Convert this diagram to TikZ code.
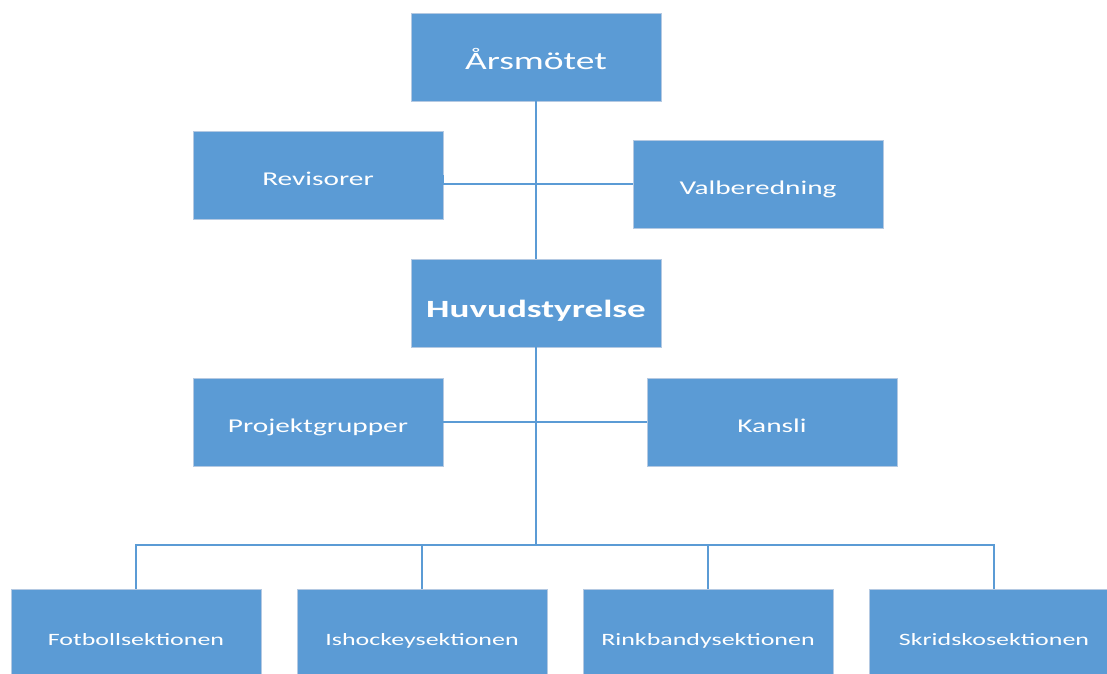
\documentclass[tikz,border=0pt]{standalone}
\usepackage{fontspec}
\setmainfont{Carlito}[FakeStretch=1.5]
\definecolor{orgblue}{HTML}{5B9BD5}
\definecolor{orgedge}{HTML}{B4C9E2}
\begin{document}
\begin{tikzpicture}[x=0.025cm, y=-0.025cm,
  orgbox/.style={draw=orgedge, fill=orgblue, text=white, minimum width=6.25cm, minimum height=2.2cm, inner sep=0pt, text depth=0pt},
  toptext/.style={font=\fontsize{17.8}{20}\selectfont, text height=0.62cm},
  midtext/.style={font=\fontsize{13.9}{16}\selectfont, text height=0.5cm},
  sectext/.style={font=\fontsize{12.3}{14}\selectfont, text height=0.6cm},
  orgline/.style={draw=orgblue, line width=1pt}]
  \useasboundingbox (0,0) rectangle (1107,673);
  \clip (0,0) rectangle (1107,673);
  \node[orgbox, toptext] (arsmote) at (536,57) {Årsmötet};
  \node[orgbox, midtext] (revisor) at (318,175) {Revisorer};
  \node[orgbox, midtext] (valber) at (758,184) {Valberedning};
  \node[orgbox, toptext, font=\fontsize{17.6}{20}\selectfont\bfseries, text height=0.7cm] (huvud) at (536,303) {Huvudstyrelse};
  \node[orgbox, midtext] (projekt) at (318,422) {Projektgrupper};
  \node[orgbox, midtext] (kansli) at (772,422) {Kansli};
  \node[orgbox, sectext] (fotboll) at (136,633) {Fotbollsektionen};
  \node[orgbox, sectext] (ishockey) at (422,633) {Ishockeysektionen};
  \node[orgbox, sectext] (rinkbandy) at (708,633) {Rinkbandysektionen};
  \node[orgbox, sectext] (skrids) at (994,633) {Skridskosektionen};
  \coordinate (bus) at (536,545);
  \path[orgline] (arsmote.south) edge (huvud.north);
  \path[orgline] (revisor.east) edge[to path={|- (\tikztotarget)}] (valber.west);
  \path[orgline] (projekt.east) edge (kansli.west);
  \path[orgline] (huvud.south) edge (bus);
  \foreach \s in {fotboll,ishockey,rinkbandy,skrids}
    \path[orgline] (bus) edge[to path={-| (\tikztotarget)}] (\s.north);
\end{tikzpicture}
\end{document}
